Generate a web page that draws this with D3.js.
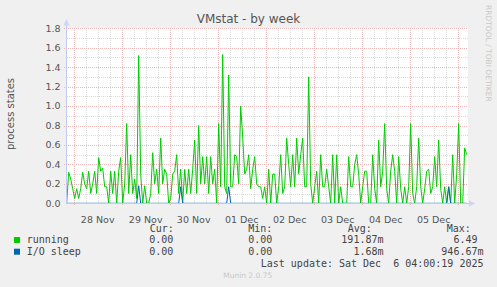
<!DOCTYPE html>
<html><head><meta charset="utf-8">
<script src="https://cdn.jsdelivr.net/npm/d3@7"></script>
<style>
html,body{margin:0;padding:0;background:#f0f0f0;}
svg{display:block;}
</style></head>
<body>
<svg id="c" width="497" height="287"></svg>
<script>
// ---- data ----
const title = "VMstat - by week";
const yLabel = "process states";
const seriesNames = ["running", "I/O sleep"];
const seriesColors = ["#00cc00", "#0066b3"];
const startTime = new Date(2025, 10, 27, 20, 30); // first sample
const stepHours = 1;
const running = [
0.0,0.32,0.25,0.15,0.05,0.15,0.05,0.15,0.32,0.2,
0.15,0.33,0.1,0.2,0.33,0.1,0.47,0.33,0.36,0.17,
0.17,0.0,0.33,0.1,0.33,0.0,0.33,0.47,0.0,0.2,
0.82,0.1,0.5,0.1,0.25,0.05,1.52,0.3,0.0,0.18,
0.0,0.0,0.1,0.52,0.2,0.35,0.1,0.67,0.2,0.35,
0.3,0.0,0.05,0.3,0.33,0.5,0.1,0.35,0.0,0.35,
0.1,0.35,0.1,0.35,0.65,0.1,0.8,0.2,0.48,0.2,
0.48,0.1,0.48,0.2,0.35,0.0,0.82,0.17,1.53,0.17,
0.1,1.32,0.17,0.17,0.5,0.48,0.2,1.0,0.68,0.3,
0.35,0.5,0.15,0.35,0.48,0.2,0.17,0.17,0.05,0.17,
0.0,0.35,0.0,0.3,0.3,0.0,0.17,0.5,0.1,0.17,
0.67,0.4,0.17,0.5,0.17,0.67,0.3,0.5,0.67,0.17,
0.17,1.3,0.2,0.0,0.17,0.33,0.0,0.5,0.17,0.17,
0.35,0.17,0.0,0.5,0.0,0.5,0.0,0.17,0.0,0.0,
0.0,0.48,0.17,0.17,0.4,0.5,0.3,0.0,0.17,0.33,
0.33,0.0,0.0,0.5,0.15,0.0,0.65,0.17,0.33,0.82,
0.15,0.0,0.33,0.5,0.33,0.0,0.48,0.15,0.0,0.17,
0.0,0.17,0.82,0.1,0.0,0.17,0.67,0.17,0.0,0.15,
0.33,0.35,0.1,0.17,0.48,0.17,0.65,0.15,0.0,0.17,
0.0,0.17,0.0,0.5,0.0,0.3,0.82,0.0,0.0,0.57,
0.5
];
const ioSleepSpikes = [[36, 0.18], [57, 0.17], [81, 0.17], [191, 0.17]];
const yTicks = [0.0,0.2,0.4,0.6,0.8,1.0,1.2,1.4,1.6,1.8];
const xTickDays = ["2025-11-28","2025-11-29","2025-11-30","2025-12-01","2025-12-02","2025-12-03","2025-12-04","2025-12-05"];
const legendHeaders = ["Cur:", "Min:", "Avg:", "Max:"];
const legendRows = [
  ["0.00", "0.00", "191.87m", "6.49"],
  ["0.00", "0.00", "1.68m", "946.67m"]
];
const lastUpdate = "Last update: Sat Dec  6 04:00:19 2025";
const footer = "Munin 2.0.75";
const sideText = "RRDTOOL / TOBI OETIKER";

// ---- build ----
const svg = d3.select("#c");
const n = running.length;
const times = running.map((_, i) => d3.timeHour.offset(startTime, i * stepHours));
const ioSleep = running.map(() => 0);
ioSleepSpikes.forEach(([i, v]) => ioSleep[i] = v);

const X0 = 66.7, X1 = 466.7, Y0 = 203.3, Y1 = 28.3;
const x = d3.scaleTime().domain([startTime, times[n - 1]]).range([X0, X1]);
const y = d3.scaleLinear().domain([0, 1.8]).range([Y0, Y1]);
const px = v => Math.round(v) + 0.5;

// canvas
svg.append("rect").attr("x", 67).attr("y", 28).attr("width", 401).attr("height", 176).attr("fill", "#ffffff");

// grid
const g = svg.append("g").attr("shape-rendering", "crispEdges");
const minorC = "#dcdcdc", majorC = "#efb8b8";
const minorY = d3.range(1, 18, 2).map(k => k / 10);
minorY.forEach(v => g.append("line").attr("x1", 67).attr("x2", 468).attr("y1", px(y(v))).attr("y2", px(y(v)))
  .attr("stroke", minorC).attr("stroke-dasharray", "1,1"));
const minorX = d3.timeHour.every(6).range(startTime, d3.timeHour.offset(times[n - 1], 1)).filter(d => d.getHours() !== 0);
minorX.forEach(d => g.append("line").attr("x1", px(x(d))).attr("x2", px(x(d))).attr("y1", 28).attr("y2", 204)
  .attr("stroke", minorC).attr("stroke-dasharray", "1,1"));
yTicks.filter(v => v > 0).forEach(v => g.append("line").attr("x1", 64).attr("x2", 468).attr("y1", px(y(v))).attr("y2", px(y(v)))
  .attr("stroke", majorC).attr("stroke-dasharray", "1,1"));
d3.timeDay.range(startTime, times[n - 1]).forEach(d => g.append("line").attr("x1", px(x(d))).attr("x2", px(x(d))).attr("y1", 28).attr("y2", 206)
  .attr("stroke", majorC).attr("stroke-dasharray", "1,1"));

// series
const line = vals => d3.line().x((d, i) => x(times[i])).y(d => y(d))(vals);
svg.append("path").attr("d", line(running)).attr("fill", "none").attr("stroke", seriesColors[0]).attr("stroke-width", 1);
svg.append("path").attr("d", line(ioSleep)).attr("fill", "none").attr("stroke", seriesColors[1]).attr("stroke-width", 1);

// axes
const axc = "#c4c9f4";
svg.append("line").attr("x1", 66.5).attr("x2", 66.5).attr("y1", 204).attr("y2", 22).attr("stroke", axc).attr("shape-rendering", "crispEdges");
svg.append("line").attr("x1", 66).attr("x2", 470).attr("y1", 203.5).attr("y2", 203.5).attr("stroke", axc).attr("shape-rendering", "crispEdges");
svg.append("path").attr("d", "M63.5,25.5 L66.5,19 L69.5,25.5 Z").attr("fill", "#cfd4f8");
svg.append("path").attr("d", "M469,200.5 L475.5,203.5 L469,206.5 Z").attr("fill", "#cfd4f8");

// y tick labels
const font = "DejaVu Sans, sans-serif";
yTicks.forEach(v => svg.append("text").attr("x", 60.5).attr("y", y(v) + 3.4).attr("text-anchor", "end")
  .attr("font-family", font).attr("font-size", 9.5).attr("fill", "#555").text(v.toFixed(1)));
// x tick labels
const fmt = d3.timeFormat("%d %b");
xTickDays.forEach(s => {
  const d = d3.timeHour.offset(d3.timeParse("%Y-%m-%d")(s), 12);
  svg.append("text").attr("x", x(d)).attr("y", 222.5).attr("text-anchor", "middle")
    .attr("font-family", font).attr("font-size", 9.5).attr("fill", "#555").text(fmt(d));
});

// title & labels
svg.append("text").attr("x", 248.5).attr("y", 23).attr("text-anchor", "middle").attr("font-family", font)
  .attr("font-size", 12).attr("fill", "#555").text(title);
svg.append("text").attr("transform", "translate(13.5,114) rotate(-90)").attr("text-anchor", "middle")
  .attr("font-family", font).attr("font-size", 10).attr("fill", "#555").text(yLabel);
svg.append("text").attr("transform", "translate(486,5) rotate(90)").attr("text-anchor", "start")
  .attr("font-family", font).attr("font-size", 7.5).attr("fill", "#c8c8c8").text(sideText);

// legend
const mono = "DejaVu Sans Mono, monospace";
const lt = (xx, yy, s, anchor) => svg.append("text").attr("x", xx).attr("y", yy).attr("text-anchor", anchor || "start")
  .attr("font-family", mono).attr("font-size", 10).attr("fill", "#444").attr("xml:space", "preserve").style("white-space", "pre").text(s);
const headerX = [149.7, 248.3, 347.7, 446.7];
legendHeaders.forEach((h, i) => lt(headerX[i], 231.5, h));
const colEnd = [179.3, 278.3, 383.5, 483.5];
legendRows.forEach((row, r) => {
  const yy = 243 + r * 11.7;
  svg.append("rect").attr("x", 14).attr("y", yy - 6).attr("width", 6).attr("height", 6).attr("fill", seriesColors[r]);
  lt(26.7, yy, seriesNames[r]);
  row.forEach((v, c) => lt(colEnd[c] - (v.endsWith("m") ? 0 : 6), yy, v, "end"));
});
lt(483.5, 266.5, lastUpdate, "end");
svg.append("text").attr("x", 247.7).attr("y", 278).attr("text-anchor", "middle").attr("font-family", font)
  .attr("font-size", 7.5).attr("fill", "#c8c8c8").text(footer);
</script>
</body></html>
